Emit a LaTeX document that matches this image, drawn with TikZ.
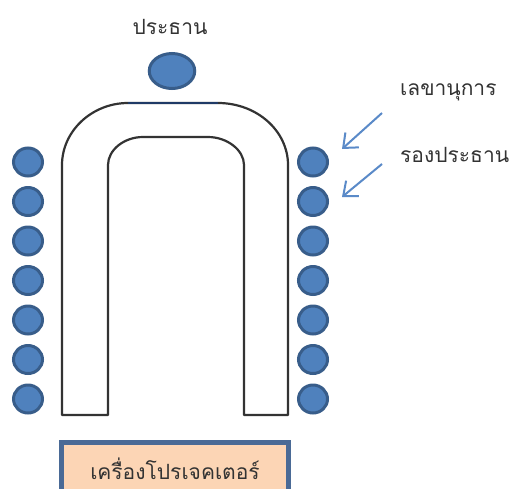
\documentclass[tikz,border=0pt]{standalone}
\usepackage{fontspec}
\newfontfamily\thaifont[Script=Thai]{Loma}
\usetikzlibrary{shapes.geometric,arrows.meta}
\definecolor{chairfill}{HTML}{4F81BD}
\definecolor{chairline}{HTML}{385D8A}
\definecolor{boxfill}{HTML}{FCD5B5}
\definecolor{boxline}{HTML}{4A6A96}
\definecolor{topline}{HTML}{1F3A66}
\definecolor{arrowc}{HTML}{5A8AC8}
\tikzset{
  chair/.style={ellipse, draw=chairline, fill=chairfill, line width=3pt,
    minimum width=29pt, minimum height=28pt, inner sep=0pt},
  bigchair/.style={chair, minimum width=45.5pt, minimum height=35pt},
  lbl/.style={font=\thaifont\fontsize{21pt}{24pt}\selectfont, text=black!80, inner sep=0pt},
  pointer/.style={draw=arrowc, line width=2pt, -{Straight Barb[length=12pt,width=20pt,line width=2pt]}},
  table/.style={draw=black!80, line width=2.2pt, line join=round},
}
\begin{document}
\begin{tikzpicture}[x=1pt,y=-1pt]
\useasboundingbox (0,0) rectangle (510,488);
% U-shaped table
\draw[table] (62,415) -- (62,165) .. controls (62,131) and (92,103) .. (128,103)
  -- (218,103) .. controls (257,103) and (288,131) .. (288,165) -- (288,415)
  -- (244,415) -- (244,165) .. controls (244,150) and (227,137) .. (208,137)
  -- (143,137) .. controls (124,137) and (108,150) .. (108,165) -- (108,415) -- cycle;
\draw[topline, line width=2.6pt] (128,103) -- (218,103);
% chairman
\node[lbl] (chairlbl) at (170,27) {ประธาน};
\node[bigchair] (chairman) at (172,71) {};
% side chairs
\foreach \i/\y in {1/162,2/201.5,3/241,4/280.5,5/320,6/359.5,7/399} {
  \node[chair] (L\i) at (28,\y) {};
  \node[chair] (R\i) at (313,\y) {};
}
% labels and arrows
\node[lbl, anchor=west] (secr) at (400,92) {เลขานุการ};
\node[lbl, anchor=west] (vice) at (400,155) {รองประธาน};
\coordinate (a1s) at (382,113);
\coordinate (a1e) at (342,149);
\coordinate (a2s) at (382,164);
\coordinate (a2e) at (342,197);
\draw[pointer] (a1s) -- (a1e);
\draw[pointer] (a2s) -- (a2e);
% projector
\draw[draw=boxline, fill=boxfill, line width=5pt] (61,442) rectangle (288,510);
\node[lbl] (proj) at (175,468.5) {เครื่องโปรเจคเตอร์};
\end{tikzpicture}
\end{document}
